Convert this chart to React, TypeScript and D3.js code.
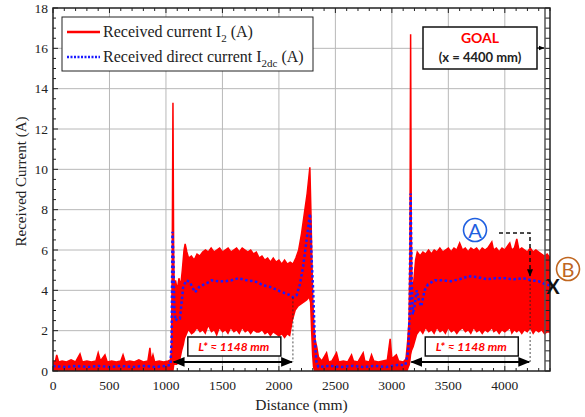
import React from "react";
import * as d3 from "d3";

// received current I2 (A): upper / lower envelope of the oscillating signal
const distance = [
  0, 20, 33, 50, 80, 120, 160, 200, 239, 260, 300, 340, 380, 400, 420, 460, 480, 520, 560, 600,
  620, 640, 680, 720, 760, 800, 840, 858, 870, 885, 900, 940, 980, 1020, 1040,
  1048, 1055, 1062, 1068, 1075, 1085, 1100, 1115, 1130, 1145, 1160, 1170, 1185,
  1200, 1225, 1250, 1275, 1300, 1325, 1350, 1375, 1400, 1425, 1450, 1475, 1500, 1525, 1550, 1575,
  1600, 1625, 1650, 1675, 1700, 1725, 1750, 1775, 1800, 1825, 1850, 1875, 1900, 1925, 1950, 1975,
  2000, 2025, 2050, 2075, 2100, 2125, 2150, 2175, 2200, 2225, 2250, 2265, 2274, 2283, 2292, 2300,
  2310, 2322, 2335, 2350, 2380, 2422, 2440, 2470, 2510, 2530, 2570, 2610, 2643, 2660, 2700, 2746,
  2760, 2800, 2820, 2840, 2880, 2920, 2960, 2985, 3000, 3040, 3060, 3100, 3125,
  3140, 3152, 3160, 3166, 3172, 3180, 3195, 3210, 3225, 3250, 3275, 3300, 3325, 3350, 3375,
  3400, 3425, 3450, 3475, 3500, 3525, 3550, 3575, 3600, 3625, 3650, 3675, 3700, 3725, 3750, 3775,
  3800, 3825, 3850, 3885, 3900, 3925, 3950, 3975, 4000, 4044, 4060, 4085, 4106, 4125, 4150, 4175,
  4200, 4225, 4250, 4275, 4300, 4325, 4350, 4375, 4400,
];
const redMax = [
  0.5, 0.45, 0.8, 0.45, 0.5, 0.45, 0.55, 0.45, 0.85, 0.45, 0.5, 0.45, 0.5, 0.9, 0.5, 0.8, 0.45, 0.5, 0.45, 0.5,
  0.8, 0.45, 0.5, 0.45, 0.55, 0.45, 0.5, 1.15, 0.5, 0.8, 0.45, 0.5, 0.45, 0.5, 0.55,
  1.0, 5.0, 13.3, 6.0, 3.5, 4.5, 4.0, 4.6, 4.2, 5.0, 6.0, 6.3, 5.9,
  5.6, 5.7, 5.5, 5.8, 5.7, 5.9, 6.0, 5.9, 6.1, 5.9, 6.0, 6.1, 5.9, 6.0, 6.1, 5.9,
  6.0, 6.1, 5.9, 6.1, 6.0, 5.9, 6.0, 5.8, 5.9, 5.6, 5.7, 5.5, 5.6, 5.4, 5.6, 5.4,
  5.5, 5.3, 5.5, 5.3, 5.4, 5.3, 5.6, 6.0, 6.8, 7.8, 8.8, 9.6, 10.1, 8.0, 5.5, 3.5,
  2.2, 1.5, 1.2, 0.7, 0.5, 0.9, 0.45, 0.5, 0.9, 0.45, 0.5, 0.45, 0.8, 0.5, 0.45, 0.9,
  0.5, 0.45, 0.8, 0.5, 0.45, 0.5, 0.55, 1.6, 0.6, 0.8, 0.5, 0.45, 0.6,
  1.5, 2.5, 6.0, 16.7, 7.0, 3.5, 4.5, 5.5, 5.9, 5.7, 5.9, 5.8, 6.0, 5.8, 6.0,
  5.9, 6.1, 5.9, 6.0, 6.1, 5.9, 6.1, 6.0, 6.35, 6.0, 6.1, 5.9, 6.1, 6.0, 6.1, 5.9,
  6.1, 6.0, 6.1, 6.4, 6.0, 6.1, 5.9, 6.1, 6.0, 6.35, 6.0, 6.1, 6.55, 6.0, 6.1, 6.0,
  5.9, 6.1, 5.9, 6.0, 5.9, 5.8, 5.7, 5.8, 5.6,
];
const redMin = [
  0, 0, 0, 0, 0, 0, 0, 0, 0, 0, 0, 0, 0, 0, 0, 0, 0, 0, 0, 0,
  0, 0, 0, 0, 0, 0, 0, 0, 0, 0, 0, 0, 0, 0, 0,
  0, 0, 0, 0, 0.3, 0.3, 0.3, 0.5, 0.6, 1.0, 1.3, 1.6, 1.8,
  2.0, 1.8, 1.9, 2.1, 1.9, 2.0, 1.8, 2.2, 1.9, 2.0, 1.7, 2.1, 1.9, 2.0, 1.8, 2.1,
  1.9, 2.0, 1.8, 2.1, 1.9, 2.0, 1.8, 2.0, 1.9, 1.9, 2.0, 1.8, 1.9, 1.7, 1.9, 1.8,
  1.7, 1.8, 1.6, 1.8, 1.7, 2.5, 3.0, 3.2, 3.3, 3.4, 3.5, 3.6, 3.4, 2.0, 0.8, 0.2,
  0, 0, 0, 0, 0, 0, 0, 0, 0, 0, 0, 0, 0, 0, 0, 0,
  0, 0, 0, 0, 0, 0, 0, 0, 0, 0, 0, 0, 0,
  0, 0.2, 0.3, 0.5, 0.8, 1.0, 1.2, 1.5, 1.8, 2.0, 1.8, 2.1, 1.9, 2.0, 1.8,
  2.1, 1.9, 2.0, 1.8, 2.1, 1.9, 2.0, 1.8, 2.0, 2.1, 1.9, 2.0, 1.8, 2.1, 1.9, 2.0,
  1.8, 2.0, 1.9, 2.1, 1.9, 2.0, 1.8, 2.0, 1.9, 2.1, 1.8, 2.0, 1.9, 2.0, 1.8, 2.0,
  1.9, 2.1, 1.8, 2.0, 1.9, 2.0, 1.8, 1.9, 1.9,
];

// received direct current I2dc (A)
const dcDistance = [
  0, 100, 200, 300, 400, 500, 600, 700, 800, 900, 1000, 1040, 1050, 1058, 1066, 1074, 1085, 1100,
  1124, 1153, 1183, 1212, 1257, 1300, 1360, 1404, 1463, 1522, 1581, 1640, 1714, 1788, 1861, 1935,
  2009, 2083, 2127, 2156, 2186, 2215, 2245, 2275, 2290, 2304, 2318, 2333, 2350, 2450, 2550, 2650,
  2750, 2850, 2950, 3050, 3120, 3145, 3158, 3166, 3175, 3185, 3200, 3220, 3240, 3260, 3290, 3320,
  3380, 3450, 3520, 3600, 3680, 3760, 3840, 3920, 4000, 4080, 4160, 4240, 4300, 4360, 4400,
];
const dcValue = [
  0.25, 0.2, 0.25, 0.2, 0.25, 0.2, 0.25, 0.2, 0.25, 0.2, 0.25, 0.3, 1.5, 6.9, 5.5, 3.0, 2.5, 2.6,
  2.6, 4.2, 4.5, 4.4, 3.9, 4.2, 4.35, 4.5, 4.45, 4.45, 4.5, 4.6, 4.5, 4.45, 4.25, 4.15,
  3.95, 3.8, 3.65, 3.75, 4.3, 5.2, 6.5, 7.8, 5.5, 3.9, 1.5, 0.4, 0.2, 0.25, 0.2, 0.25,
  0.2, 0.25, 0.2, 0.3, 0.3, 1.0, 3.0, 8.8, 4.5, 2.8, 3.2, 4.0, 3.5, 3.2, 4.0, 4.3,
  4.5, 4.5, 4.45, 4.55, 4.7, 4.65, 4.55, 4.6, 4.6, 4.55, 4.6, 4.5, 4.45, 4.3, 4.25,
];

const xTicks = [0, 500, 1000, 1500, 2000, 2500, 3000, 3500, 4000];
const yTicks = [0, 2, 4, 6, 8, 10, 12, 14, 16, 18];
// the two L* spans (mm)
const spanStart = [1060, 3164];
const spanEnd = [2124, 4224];

const W = 585, H = 417;
const left = 53, right = 550, top = 8, bottom = 371;

export default function App() {
  const x = d3.scaleLinear().domain([0, 4400]).range([left, right]);
  const y = d3.scaleLinear().domain([0, 18]).range([bottom, top]);

  const idx = distance.map((_, i) => i);
  const redArea = d3.area<number>()
    .x((i) => x(distance[i]))
    .y0((i) => y(redMin[i]))
    .y1((i) => y(redMax[i]))(idx) || "";
  const redTop = d3.line<number>()
    .x((i) => x(distance[i]))
    .y((i) => y(redMax[i]))(idx) || "";
  const dcLine = d3.line<number>()
    .x((i) => x(dcDistance[i]))
    .y((i) => y(dcValue[i]))(dcDistance.map((_, i) => i)) || "";

  const minorX = d3.range(0, 4401, 100);
  const minorY = d3.range(0, 18.01, 0.5);
  const serif = "'Liberation Serif', 'Times New Roman', serif";
  const sans = "Lato, 'Open Sans', sans-serif";
  const yArrow = y(0.45);
  const brown = "#c0661f";

  return (
    <svg width={W} height={H} style={{ position: "absolute", left: 0, top: 0, background: "#fff" }}>
      <defs>
        <clipPath id="plot">
          <rect x={left} y={top} width={right - left} height={bottom - top} />
        </clipPath>
        <marker id="ah" viewBox="0 0 10 10" refX="9" refY="5" markerWidth="6" markerHeight="6" orient="auto-start-reverse">
          <path d="M0,1 L10,5 L0,9 z" fill="#000" />
        </marker>
        <marker id="ahs" viewBox="0 0 10 10" refX="9" refY="5" markerWidth="5" markerHeight="5" orient="auto">
          <path d="M0,1 L10,5 L0,9 z" fill="#000" />
        </marker>
      </defs>

      {/* grid */}
      <g stroke="#b8b8b8" strokeWidth={1}>
        {xTicks.slice(1).map((t) => (
          <line key={"gx" + t} x1={x(t)} x2={x(t)} y1={top} y2={bottom} />
        ))}
        {yTicks.slice(1, -1).map((t) => (
          <line key={"gy" + t} x1={left} x2={right} y1={y(t)} y2={y(t)} />
        ))}
      </g>

      {/* signals */}
      <g clipPath="url(#plot)">
        <path d={redArea} fill="#ff0000" />
        <path d={redTop} fill="none" stroke="#ff0000" strokeWidth={1.5} />
        <path d={dcLine} fill="none" stroke="#1a1aff" strokeWidth={2.5} strokeDasharray="2.5,2.5" />
      </g>

      {/* frame with inside ticks */}
      <g stroke="#222" strokeWidth={1}>
        {minorX.map((t) => {
          const len = t % 500 === 0 ? 5 : 3;
          return (
            <g key={"tx" + t}>
              <line x1={x(t)} x2={x(t)} y1={bottom} y2={bottom - len} />
              <line x1={x(t)} x2={x(t)} y1={top} y2={top + len} />
            </g>
          );
        })}
        {minorY.map((t) => {
          const len = t % 2 === 0 ? 5 : 3;
          return (
            <g key={"ty" + t}>
              <line x1={left} x2={left + len} y1={y(t)} y2={y(t)} />
              <line x1={right - 5} x2={right} y1={y(t)} y2={y(t)} />
            </g>
          );
        })}
      </g>
      <line x1={right - 5} x2={right - 5} y1={top} y2={bottom} stroke="#555" strokeWidth={1.5} />
      <rect x={left} y={top} width={right - left} height={bottom - top} fill="none" stroke="#222" strokeWidth={1.5} />

      {/* tick labels */}
      <g fontFamily={serif} fontSize={13.5} fill="#222">
        {xTicks.map((t) => (
          <text key={"lx" + t} x={x(t)} y={bottom + 19} textAnchor="middle">{t}</text>
        ))}
        {yTicks.map((t) => (
          <text key={"ly" + t} x={left - 5} y={y(t) + 4.5} textAnchor="end">{t}</text>
        ))}
      </g>
      <text x={(left + right) / 2} y={410} textAnchor="middle" fontFamily={serif} fontSize={15.5} fill="#222">
        Distance (mm)
      </text>
      <text transform={`translate(26,${(top + bottom) / 2 - 8}) rotate(-90)`} textAnchor="middle" fontFamily={serif} fontSize={15} fill="#222">
        Received Current (A)
      </text>

      {/* legend */}
      <rect x={62} y={17} width={251} height={54} fill="#fff" stroke="#222" strokeWidth={1} />
      <line x1={67} x2={100} y1={32} y2={32} stroke="#ff0000" strokeWidth={2.5} />
      <line x1={67} x2={100} y1={57} y2={57} stroke="#1a1aff" strokeWidth={2.5} strokeDasharray="2,1.5" />
      <g fontFamily={serif} fontSize={16} fill="#222">
        <text x={103} y={37}>
          Received current I<tspan dy={5} fontSize={11}>2</tspan><tspan dy={-5}> (A)</tspan>
        </text>
        <text x={103} y={62}>
          Received direct current I<tspan dy={5} fontSize={11}>2dc</tspan><tspan dy={-5}> (A)</tspan>
        </text>
      </g>

      {/* goal box */}
      <rect x={423} y={27} width={114} height={42} fill="#fff" stroke="#111" strokeWidth={1.5} />
      <text x={480} y={43} textAnchor="middle" fontFamily={sans} fontWeight="bold" fontSize={14} fill="#ff0000">GOAL</text>
      <text x={480} y={62} textAnchor="middle" fontFamily={sans} fontWeight="bold" fontSize={13} fill="#222">(x = 4400 mm)</text>
      <line x1={537} x2={544} y1={48} y2={48} stroke="#000" strokeWidth={1.2} markerEnd="url(#ahs)" />

      {/* L* spans */}
      {spanStart.map((s, i) => {
        const mid = (x(s) + x(spanEnd[i])) / 2 + 1;
        return (
          <g key={"span" + i}>
            <line x1={x(spanEnd[i])} x2={x(spanEnd[i])} y1={i === 0 ? y(3.65) : 280} y2={yArrow} stroke="#222" strokeWidth={0.8} strokeDasharray="2,2" />
            <rect x={mid - 46} y={337} width={93} height={19} fill="#fff" stroke="#111" strokeWidth={1.5} />
            <text x={mid} y={351} textAnchor="middle" fontFamily={sans} fontWeight="bold" fontStyle="italic" fontSize={12} fill="#ff0000">
              L* ≈ 1148 mm
            </text>
            <line x1={x(s) + 1} x2={x(spanEnd[i]) - 1} y1={yArrow} y2={yArrow} stroke="#000" strokeWidth={2}
              markerStart="url(#ah)" markerEnd="url(#ah)" />
          </g>
        );
      })}

      {/* A / B markers */}
      <circle cx={475} cy={230} r={11.5} fill="none" stroke="#1f5fe0" strokeWidth={1.6} />
      <text x={475} y={237.5} textAnchor="middle" fontFamily={sans} fontSize={20} fill="#1f5fe0">A</text>
      <path d="M499,233 L530,233 L530,276" fill="none" stroke="#111" strokeWidth={1.5} strokeDasharray="4,3" markerEnd="url(#ahs)" />
      <circle cx={568} cy={269} r={11.5} fill="none" stroke={brown} strokeWidth={1.6} />
      <text x={568} y={276.5} textAnchor="middle" fontFamily={sans} fontSize={20} fill={brown}>B</text>
      <text x={553} y={294} textAnchor="middle" fontFamily={sans} fontWeight="bold" fontSize={20} fill="#111">X</text>
    </svg>
  );
}
